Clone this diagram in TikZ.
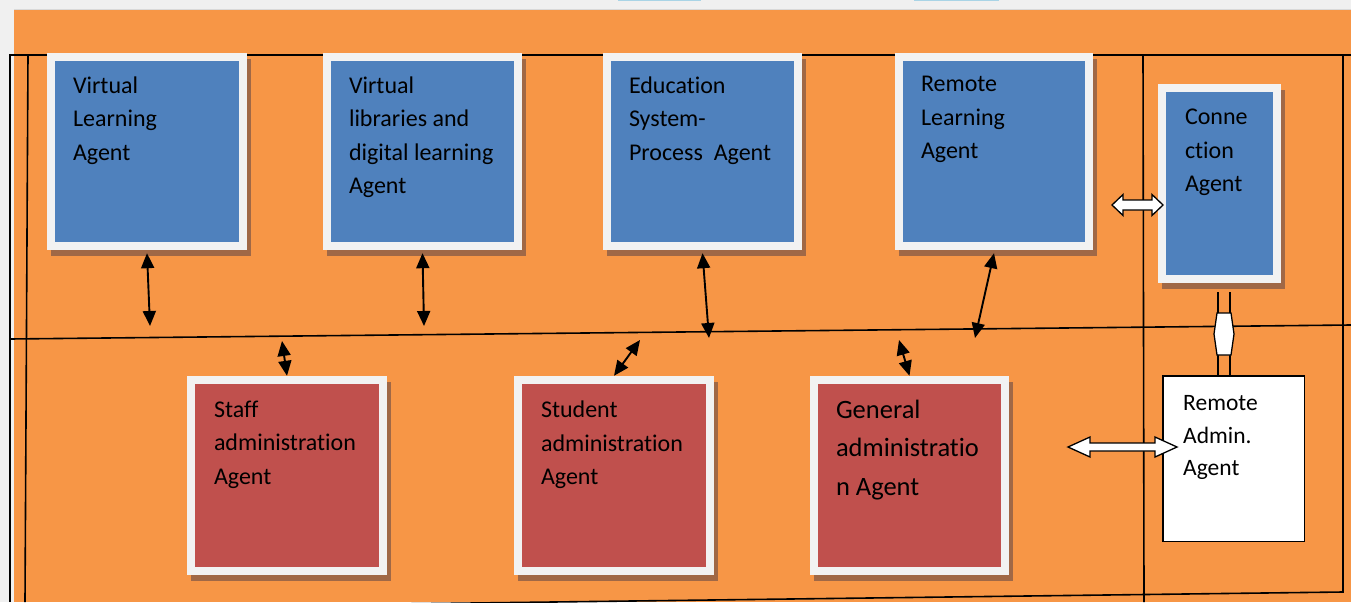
\documentclass[tikz,border=0pt]{standalone}
\usepackage{fontspec}
\setmainfont{Carlito}[Ligatures=NoCommon]
\usetikzlibrary{arrows.meta,shadows}

\definecolor{bgorange}{HTML}{F79646}
\definecolor{pagegray}{HTML}{F0F0F0}
\definecolor{tabblue}{HTML}{A9D4E6}
\definecolor{agentblue}{HTML}{4F81BD}
\definecolor{agentred}{HTML}{C0504D}
\definecolor{rimgray}{HTML}{F2F2F2}
\definecolor{shadebrown}{RGB}{160,104,70}

\tikzset{
  agent/.style={fill=rimgray, inner sep=0pt,
    drop shadow={shadow xshift=4pt,shadow yshift=-6pt,fill=shadebrown,opacity=1},
    path picture={\fill[#1] ([shift={(8pt,-8pt)}]path picture bounding box.north west)
      rectangle ([shift={(-8pt,8pt)}]path picture bounding box.south east);}},
  % \strut keeps the top of every text at the same distance above its first baseline
  lbl/.style={anchor=north west, align=left, inner sep=0pt, font=\fontsize{24}{33.5}\selectfont,
    execute at begin node=\strut},
  biarrow/.style={line width=1.9pt, {Triangle[width=13pt,length=15pt]}-{Triangle[width=13pt,length=15pt]}},
  frameline/.style={line width=1.6pt},
  hollow/.style={draw=black, fill=white, line width=1.3pt, line join=miter}
}

\begin{document}
\begin{tikzpicture}[x=1pt,y=-1pt]
\useasboundingbox (0,0) rectangle (1351,602);
% page and orange panel
\fill[pagegray] (0,0) rectangle (1351,602);
\fill[bgorange] (14,10) rectangle (1351,602);
\draw[black!15, line width=0.6pt] (14,9.5) -- (1351,9.5);
\fill[tabblue] (618,0) rectangle (701,1.5);
\fill[tabblue] (914,0) rectangle (999,1.5);

% frame lines
\draw[frameline] (10,602) -- (10,55) -- (1351,55);
\draw[frameline] (28,55) -- (25,602);
\draw[frameline] (10,339) -- (1351,325);
\draw[frameline] (1143,55) -- (1144,602);
\draw[frameline] (1343,55) -- (1343,592) -- (0,609);

% upper agents
\node[agent=agentblue, minimum width=200pt, minimum height=197pt] (vl) at (147,151.5) {};
\node[agent=agentblue, minimum width=199pt, minimum height=197pt] (vd) at (422.5,151.5) {};
\node[agent=agentblue, minimum width=199pt, minimum height=197pt] (es) at (702.5,151.5) {};
\node[agent=agentblue, minimum width=198pt, minimum height=197pt] (rl) at (994,151.5) {};
\node[agent=agentblue, minimum width=123pt, minimum height=199pt] (conn) at (1219.5,183.5) {};

% lower agents
\node[agent=agentred, minimum width=200pt, minimum height=199pt] (sa) at (287,475.5) {};
\node[agent=agentred, minimum width=200pt, minimum height=199pt] (st) at (614,475.5) {};
\node[agent=agentred, minimum width=199pt, minimum height=199pt] (ga) at (909.5,475.5) {};
\node[draw, line width=1.5pt, fill=white, minimum width=141.5pt, minimum height=165.5pt] (ra) at (1233.5,458.5) {};

% texts
\foreach \n/\t in {vl/{Virtual\\Learning\\Agent}, vd/{Virtual\\libraries and\\digital learning\\Agent},
  es/{Education\\System-\\Process~~Agent}, rl/{Remote\\Learning\\Agent}}
  \node[lbl] (\n-txt) at ([shift={(26pt,-23.5pt)}]\n.north west) {\t};
\foreach \n/\t in {conn/{Conne\\ction\\Agent}, sa/{Staff\\administration\\Agent},
  st/{Student\\administration\\Agent}}
  \node[lbl] (\n-txt) at ([shift={(27pt,-25pt)}]\n.north west) {\t};
\node[lbl, font=\fontsize{26.5}{38.5}\selectfont] (ga-txt) at ([shift={(26pt,-24pt)}]ga.north west) {General\\administratio\\n Agent};
\node[lbl, font=\fontsize{23.5}{32.5}\selectfont] (ra-txt) at ([shift={(21pt,-20.5pt)}]ra.north west) {Remote\\Admin.\\Agent};

% free ends on the middle line
\foreach \n/\x/\y in {p1/150/326, p2/424/326, p3/709/338, p4/975/338, q5/282/341, q6/640/340, q7/899/340}
  \coordinate (\n) at (\x,\y);
\foreach \a/\b in {vl/p1, vd/p2, es/p3, rl/p4}
  \draw[biarrow] ([yshift=-3pt]\a.south) -- (\b);
\foreach \a/\b in {q5/sa, q6/st, q7/ga}
  \draw[biarrow] (\a) -- (\b.north);

% hollow arrows to the connection side
\coordinate (conn-arr) at (1137.5,205);
\coordinate (ra-arr) at (1122.5,447);
\draw[hollow] (conn-arr) ++(-25.5,0) -- ++(11,-10.5) -- ++(0,5.5) -- ++(29,0) -- ++(0,-5.5)
  -- ++(11,10.5) -- ++(-11,10.5) -- ++(0,-5.5) -- ++(-29,0) -- ++(0,5.5) -- cycle;
\draw[hollow] (ra-arr) ++(-54.5,0) -- ++(22,-10) -- ++(0,6) -- ++(65,0) -- ++(0,-6)
  -- ++(22,10) -- ++(-22,10) -- ++(0,-6) -- ++(-65,0) -- ++(0,6) -- cycle;

% link between connection agent and remote admin
\coordinate (vc) at (1224,334);
\path (vc |- conn.south) ++(0,9) coordinate (vtop);
\path (vc |- ra.north) coordinate (vbot);
\draw[line width=1.3pt] ([xshift=-6pt]vtop) -- ([xshift=-6pt]vbot)
  ([xshift=6pt]vtop) -- ([xshift=6pt]vbot);
\draw[hollow] (vc) ++(-7,-21) -- ++(14,0) -- ++(3,21) -- ++(-3,21)
  -- ++(-14,0) -- ++(-3,-21) -- cycle;
\end{tikzpicture}
\end{document}
